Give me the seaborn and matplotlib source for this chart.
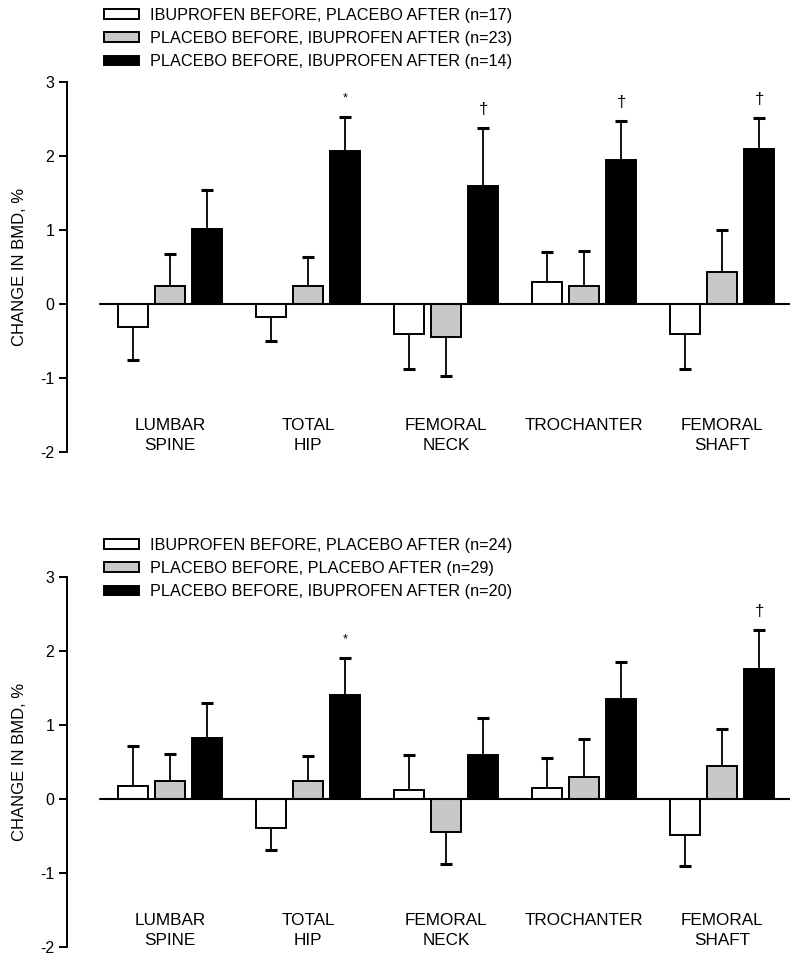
import matplotlib
matplotlib.use("Agg")
import matplotlib.pyplot as plt
from matplotlib.patches import Patch
import seaborn as sns
import pandas as pd

# Sites along the x axis
sites = ["LUMBAR\nSPINE", "TOTAL\nHIP", "FEMORAL\nNECK", "TROCHANTER", "FEMORAL\nSHAFT"]

# Upper panel: group labels, mean change in BMD (%) and SEM
top_groups = ["IBUPROFEN BEFORE, PLACEBO AFTER (n=17)",
              "PLACEBO BEFORE, IBUPROFEN AFTER (n=23)",
              "PLACEBO BEFORE, IBUPROFEN AFTER (n=14)"]
top_white = [-0.31, -0.18, -0.41, 0.30, -0.40]
top_white_sem = [0.45, 0.32, 0.47, 0.41, 0.48]
top_gray = [0.25, 0.24, -0.44, 0.25, 0.43]
top_gray_sem = [0.43, 0.39, 0.53, 0.47, 0.57]
top_black = [1.02, 2.07, 1.59, 1.95, 2.10]
top_black_sem = [0.52, 0.46, 0.79, 0.53, 0.42]
top_marks = ["", "*", "\u2020", "\u2020", "\u2020"]

# Lower panel
bot_groups = ["IBUPROFEN BEFORE, PLACEBO AFTER (n=24)",
              "PLACEBO BEFORE, PLACEBO AFTER (n=29)",
              "PLACEBO BEFORE, IBUPROFEN AFTER (n=20)"]
bot_white = [0.18, -0.39, 0.12, 0.15, -0.48]
bot_white_sem = [0.53, 0.30, 0.48, 0.41, 0.42]
bot_gray = [0.25, 0.24, -0.45, 0.30, 0.44]
bot_gray_sem = [0.36, 0.34, 0.42, 0.51, 0.50]
bot_black = [0.82, 1.41, 0.60, 1.35, 1.75]
bot_black_sem = [0.47, 0.49, 0.49, 0.50, 0.53]
bot_marks = ["", "*", "", "", "\u2020"]

fills = ["white", "#c8c8c8", "black"]

sns.set_style("ticks")
plt.rcParams["font.family"] = ["Liberation Sans", "DejaVu Sans"]
plt.rcParams["axes.unicode_minus"] = False
for k in ["text.color", "axes.labelcolor", "axes.edgecolor", "xtick.color", "ytick.color"]:
    plt.rcParams[k] = "black"

fig = plt.figure(figsize=(8.0, 9.63), dpi=100)


def draw_panel(ax, groups, means, sems, marks, legend_top):
    rows = []
    for g, m_list, s_list in zip(groups, means, sems):
        for site, m, s in zip(sites, m_list, s_list):
            rows.append({"site": site, "group": g, "change": m, "sem": s})
    df = pd.DataFrame(rows)

    sns.barplot(data=df, x="site", y="change", hue="group", order=sites,
                hue_order=groups, palette=dict(zip(groups, fills)),
                edgecolor="black", linewidth=1.4, width=0.804, gap=0.19,
                errorbar=None, legend=False, ax=ax)

    # one-sided error bars, in the direction of the bar, cap only at the far end
    for patch, (_, r) in zip(ax.patches, df.iterrows()):
        xc = patch.get_x() + patch.get_width() / 2
        h = patch.get_height()
        end = h - r["sem"] if h < 0 else h + r["sem"]
        ax.vlines(xc, h, end, color="black", linewidth=1.3, zorder=1)
        ax.plot(xc, end, marker="_", markersize=8.6, markeredgewidth=2.2,
                color="black", zorder=1)
        if r["group"] == groups[2]:
            mark = marks[sites.index(r["site"])]
            if mark:
                size = 9 if mark == "*" else 12
                ax.text(xc, end + 0.25, mark, ha="center", va="center", fontsize=size)

    ax.set_xlim(-0.746, 4.49)
    ax.set_ylim(-2, 3)
    ax.set_yticks([-2, -1, 0, 1, 2, 3])
    ax.set_xticks([])
    ax.set_xlabel("")
    ax.axhline(0, xmin=0.0456, xmax=1, color="black", linewidth=1.5, zorder=3)
    for sp in ["top", "right", "bottom"]:
        ax.spines[sp].set_visible(False)
    ax.spines["left"].set_linewidth(1.4)
    ax.tick_params(axis="y", length=6, width=1.4, pad=3, labelsize=11.5)
    ax.set_ylabel("CHANGE IN BMD, %", fontsize=12)
    ax.yaxis.set_label_coords(-0.056, 0.5)

    for i, site in enumerate(sites):
        ax.text(i, -1.54, site, ha="center", va="top", fontsize=12.3,
                linespacing=1.4)

    handles = [Patch(facecolor=c, edgecolor="black", linewidth=1.4) for c in fills]
    ax.legend(handles, groups, loc="upper left",
              bbox_to_anchor=(104 / 800, legend_top), bbox_transform=fig.transFigure,
              frameon=False, fontsize=11.7, handlelength=2.15, handleheight=0.55,
              handletextpad=0.7, labelspacing=0.5, borderpad=0, borderaxespad=0)


ax1 = fig.add_axes([0.08375, 0.5306, 0.9038, 0.3842])
draw_panel(ax1, top_groups, [top_white, top_gray, top_black],
           [top_white_sem, top_gray_sem, top_black_sem], top_marks, 1 - 8 / 963)

ax2 = fig.add_axes([0.08375, 0.0163, 0.9038, 0.3848])
draw_panel(ax2, bot_groups, [bot_white, bot_gray, bot_black],
           [bot_white_sem, bot_gray_sem, bot_black_sem], bot_marks, 1 - 538 / 963)

fig.savefig("out.png", dpi=100)
